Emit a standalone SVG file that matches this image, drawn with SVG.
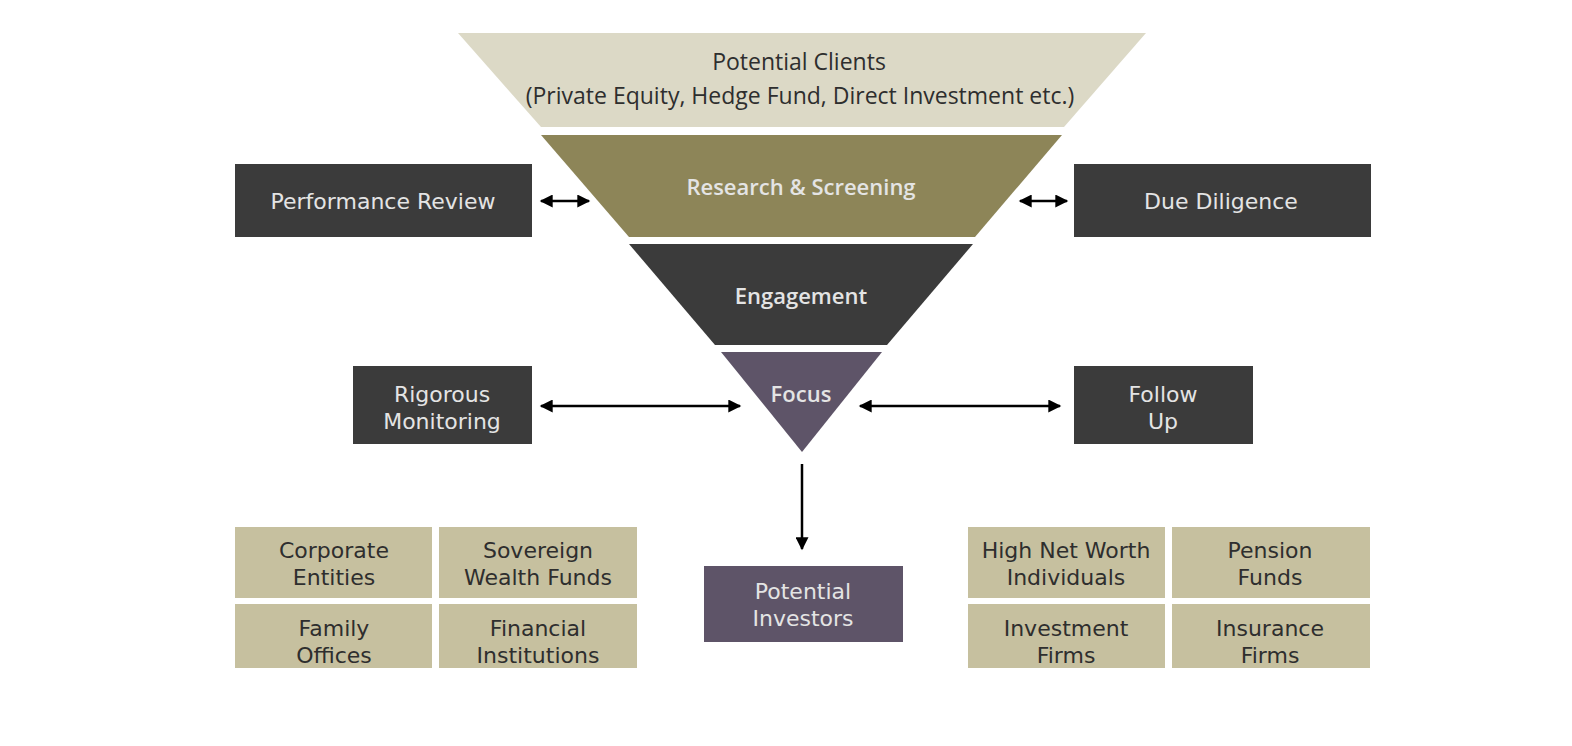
<svg xmlns="http://www.w3.org/2000/svg" width="1572" height="746" viewBox="0 0 1572 746">
  <style>
    .funnel { font-family: "Open Sans", "Noto Sans", sans-serif; text-anchor: middle; }
    .lbl { font-family: "DejaVu Sans", "Liberation Sans", sans-serif; text-anchor: middle; font-size: 22px; }
    .dark { fill: #3b3b3b; }
    .light { fill: #e4e4e4; }
    .tan { fill: #c6c09f; }
    .ink { fill: #2e2e2e; }
    .conn { stroke: #000; stroke-width: 2.5; fill: none; }
  </style>
  <defs>
    <marker id="head" viewBox="0 0 10 10" refX="9" refY="5" markerWidth="5.6" markerHeight="5.2" orient="auto-start-reverse" markerUnits="strokeWidth">
      <path d="M0,0 L10,5 L0,10 z" fill="#000"/>
    </marker>
  </defs>

  <rect width="1572" height="746" fill="#fff"/>

  <!-- funnel stages -->
  <g id="potential-clients">
    <polygon points="458,33 1146,33 1064,127 541,127" fill="#dcd9c6"/>
    <text class="funnel ink" x="799" y="70" font-size="23">Potential Clients</text>
    <text class="funnel ink" x="800" y="104" font-size="23">(Private Equity, Hedge Fund, Direct Investment etc.)</text>
  </g>
  <g id="research-screening">
    <polygon points="541,135 1062,135 975,237 629,237" fill="#8d8558"/>
    <text class="funnel light" x="801" y="195" font-size="22" font-weight="600">Research &amp; Screening</text>
  </g>
  <g id="engagement">
    <polygon points="629,244 973,244 887,345 715,345" fill="#3b3b3b"/>
    <text class="funnel light" x="801" y="304" font-size="22" font-weight="600">Engagement</text>
  </g>
  <g id="focus">
    <polygon points="721,352 882,352 802,452" fill="#5e5468"/>
    <text class="funnel light" x="801" y="402" font-size="22" font-weight="600">Focus</text>
  </g>

  <!-- side activities -->
  <g id="performance-review">
    <rect class="dark" x="235" y="164" width="297" height="73"/>
    <text class="lbl light" x="383" y="209">Performance Review</text>
  </g>
  <g id="due-diligence">
    <rect class="dark" x="1074" y="164" width="297" height="73"/>
    <text class="lbl light" x="1221" y="209">Due Diligence</text>
  </g>
  <g id="rigorous-monitoring">
    <rect class="dark" x="353" y="366" width="179" height="78"/>
    <text class="lbl light" x="442" y="402">Rigorous</text>
    <text class="lbl light" x="442" y="429">Monitoring</text>
  </g>
  <g id="follow-up">
    <rect class="dark" x="1074" y="366" width="179" height="78"/>
    <text class="lbl light" x="1163" y="402">Follow</text>
    <text class="lbl light" x="1163" y="429">Up</text>
  </g>

  <!-- outcome -->
  <g id="potential-investors">
    <rect x="704" y="566" width="199" height="76" fill="#5e5468"/>
    <text class="lbl light" x="803" y="599">Potential</text>
    <text class="lbl light" x="803" y="626">Investors</text>
  </g>

  <!-- investor categories, left -->
  <g id="corporate-entities">
    <rect class="tan" x="235" y="527" width="197" height="71"/>
    <text class="lbl ink" x="334" y="558">Corporate</text>
    <text class="lbl ink" x="334" y="585">Entities</text>
  </g>
  <g id="sovereign-wealth-funds">
    <rect class="tan" x="439" y="527" width="198" height="71"/>
    <text class="lbl ink" x="538" y="558">Sovereign</text>
    <text class="lbl ink" x="538" y="585">Wealth Funds</text>
  </g>
  <g id="family-offices">
    <rect class="tan" x="235" y="604" width="197" height="64"/>
    <text class="lbl ink" x="334" y="636">Family</text>
    <text class="lbl ink" x="334" y="663">Offices</text>
  </g>
  <g id="financial-institutions">
    <rect class="tan" x="439" y="604" width="198" height="64"/>
    <text class="lbl ink" x="538" y="636">Financial</text>
    <text class="lbl ink" x="538" y="663">Institutions</text>
  </g>

  <!-- investor categories, right -->
  <g id="high-net-worth">
    <rect class="tan" x="968" y="527" width="197" height="71"/>
    <text class="lbl ink" x="1066" y="558">High Net Worth</text>
    <text class="lbl ink" x="1066" y="585">Individuals</text>
  </g>
  <g id="pension-funds">
    <rect class="tan" x="1172" y="527" width="198" height="71"/>
    <text class="lbl ink" x="1270" y="558">Pension</text>
    <text class="lbl ink" x="1270" y="585">Funds</text>
  </g>
  <g id="investment-firms">
    <rect class="tan" x="968" y="604" width="197" height="64"/>
    <text class="lbl ink" x="1066" y="636">Investment</text>
    <text class="lbl ink" x="1066" y="663">Firms</text>
  </g>
  <g id="insurance-firms">
    <rect class="tan" x="1172" y="604" width="198" height="64"/>
    <text class="lbl ink" x="1270" y="636">Insurance</text>
    <text class="lbl ink" x="1270" y="663">Firms</text>
  </g>

  <!-- connectors -->
  <g id="connectors">
    <line class="conn" x1="541" y1="201" x2="589" y2="201" marker-start="url(#head)" marker-end="url(#head)"/>
    <line class="conn" x1="1020" y1="201" x2="1067" y2="201" marker-start="url(#head)" marker-end="url(#head)"/>
    <line class="conn" x1="541" y1="406" x2="740" y2="406" marker-start="url(#head)" marker-end="url(#head)"/>
    <line class="conn" x1="860" y1="406" x2="1060" y2="406" marker-start="url(#head)" marker-end="url(#head)"/>
    <line class="conn" x1="802" y1="464" x2="802" y2="549" marker-end="url(#head)"/>
  </g>
</svg>
